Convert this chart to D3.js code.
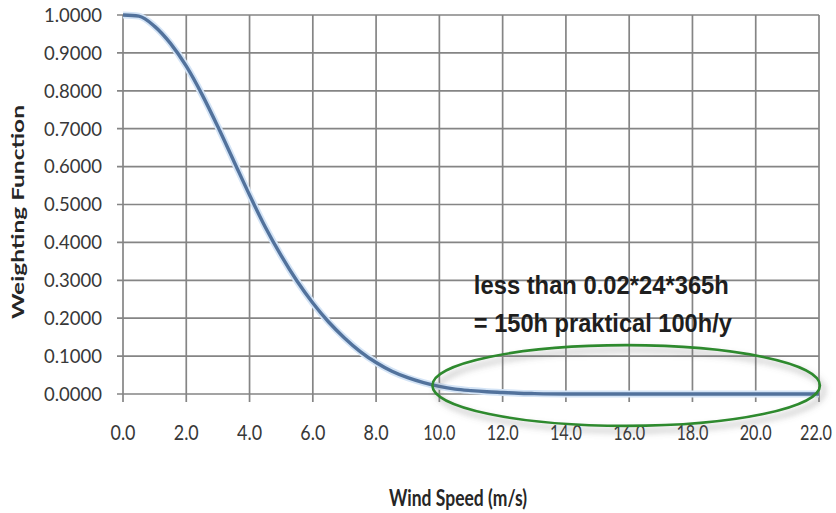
<!DOCTYPE html>
<html>
<head>
<meta charset="utf-8">
<script src="https://cdn.jsdelivr.net/npm/d3@7"></script>
<style>
  body { margin: 0; background: #fff; }
  svg { display: block; }
</style>
</head>
<body>
<div id="chart"></div>
<script>
// wind speed (m/s) and weighting function
const windSpeed = [0, 0.5, 1, 1.5, 2, 2.5, 3, 3.5, 4, 4.5, 5, 5.5, 6, 6.5, 7, 7.5, 8, 8.5, 9, 9.5, 10, 10.5, 11, 11.5, 12, 12.5, 13, 14, 16, 18, 20, 22];
const weighting = [1.0, 0.997, 0.97, 0.925, 0.865, 0.79, 0.705, 0.615, 0.525, 0.44, 0.365, 0.298, 0.24, 0.19, 0.148, 0.112, 0.083, 0.06, 0.043, 0.03, 0.02, 0.013, 0.009, 0.006, 0.004, 0.002, 0.001, 0, 0, 0, 0, 0];

const xTicks = [0, 2, 4, 6, 8, 10, 12, 14, 16, 18, 20, 22];
const yTicks = [0, 0.1, 0.2, 0.3, 0.4, 0.5, 0.6, 0.7, 0.8, 0.9, 1.0];

const noteLines = ["less than 0.02*24*365h", "= 150h praktical 100h/y"];
// ellipse bounds in data units [speed, weighting]
const ellipseX = [9.78, 22.03];
const ellipseY = [-0.084, 0.129];

const W = 836, H = 513;
const margin = { top: 15, right: 17, bottom: 117, left: 123 };

const svg = d3.select("#chart")
  .append("svg")
  .attr("width", W)
  .attr("height", H);

const defs = svg.append("defs");
const shadow = defs.append("filter")
  .attr("id", "shadow")
  .attr("x", "-10%").attr("y", "-30%")
  .attr("width", "130%").attr("height", "180%");
shadow.append("feDropShadow")
  .attr("dx", 4).attr("dy", 5)
  .attr("stdDeviation", 3)
  .attr("flood-color", "#666")
  .attr("flood-opacity", 0.55);

const x = d3.scaleLinear()
  .domain([0, 22])
  .range([margin.left, W - margin.right]);

const y = d3.scaleLinear()
  .domain([0, 1])
  .range([H - margin.bottom - 2, margin.top]);

// grid lines (with little ticks sticking out)
const grid = svg.append("g").attr("stroke", "#858585").attr("stroke-width", 1.7);

grid.selectAll(".hgrid")
  .data(yTicks)
  .join("line")
  .attr("x1", x(0) - 6)
  .attr("x2", x(22))
  .attr("y1", d => y(d))
  .attr("y2", d => y(d));

grid.selectAll(".vgrid")
  .data(xTicks)
  .join("line")
  .attr("x1", d => x(d))
  .attr("x2", d => x(d))
  .attr("y1", y(1))
  .attr("y2", y(0) + 8);

// y tick labels
svg.append("g")
  .selectAll("text")
  .data(yTicks)
  .join("text")
  .attr("x", x(0) - 21)
  .attr("y", d => y(d))
  .attr("dy", "0.36em")
  .attr("text-anchor", "end")
  .attr("textLength", 58)
  .attr("lengthAdjust", "spacingAndGlyphs")
  .style("font-family", "Lato, 'Open Sans', sans-serif")
  .style("font-size", "19px")
  .style("fill", "#383838")
  .text(d => d.toFixed(4));

// x tick labels (last one kept inside the frame)
const lastTick = xTicks[xTicks.length - 1];
svg.append("g")
  .selectAll("text")
  .data(xTicks)
  .join("text")
  .attr("x", d => d === lastTick ? W - 4 : x(d))
  .attr("y", y(0) + 46)
  .attr("text-anchor", d => d === lastTick ? "end" : "middle")
  .attr("textLength", d => d.toFixed(1).length === 3 ? 25 : 32)
  .attr("lengthAdjust", "spacingAndGlyphs")
  .style("font-family", "Lato, 'Open Sans', sans-serif")
  .style("font-size", "21px")
  .style("fill", "#383838")
  .text(d => d.toFixed(1));

// axis titles
svg.append("text")
  .attr("x", (x(0) + x(22)) / 2 - 13)
  .attr("y", H - 7)
  .attr("text-anchor", "middle")
  .attr("textLength", 138)
  .attr("lengthAdjust", "spacingAndGlyphs")
  .style("font-family", "Lato, 'Open Sans', sans-serif")
  .style("font-weight", "bold")
  .style("font-size", "22px")
  .style("fill", "#262626")
  .text("Wind Speed (m/s)");

svg.append("text")
  .attr("transform", `translate(24, ${y(0.48)}) rotate(-90)`)
  .attr("text-anchor", "middle")
  .attr("textLength", 214)
  .attr("lengthAdjust", "spacingAndGlyphs")
  .style("font-family", "Lato, 'Open Sans', sans-serif")
  .style("font-weight", "bold")
  .style("font-size", "17px")
  .style("fill", "#262626")
  .text("Weighting Function");

// the curve
const line = d3.line()
  .x((d, i) => x(windSpeed[i]))
  .y(d => y(d))
  .curve(d3.curveMonotoneX);

svg.append("path")
  .datum(weighting)
  .attr("fill", "none")
  .attr("stroke", "#d4e4f6")
  .attr("stroke-width", 7)
  .attr("stroke-linejoin", "round")
  .attr("d", line);

svg.append("path")
  .datum(weighting)
  .attr("fill", "none")
  .attr("stroke", "#52729c")
  .attr("stroke-width", 3.4)
  .attr("stroke-linejoin", "round")
  .attr("d", line);

// annotation
svg.append("ellipse")
  .attr("cx", x((ellipseX[0] + ellipseX[1]) / 2))
  .attr("cy", y((ellipseY[0] + ellipseY[1]) / 2))
  .attr("rx", (x(ellipseX[1]) - x(ellipseX[0])) / 2)
  .attr("ry", (y(ellipseY[0]) - y(ellipseY[1])) / 2)
  .attr("fill", "none")
  .attr("stroke", "#2f8a2f")
  .attr("stroke-width", 2.6)
  .attr("filter", "url(#shadow)");

svg.append("g")
  .selectAll("text")
  .data(noteLines)
  .join("text")
  .attr("x", x(11.09))
  .attr("y", (d, i) => y(0.2635) + i * 38)
  .attr("textLength", (d, i) => i === 0 ? 255 : 258)
  .attr("lengthAdjust", "spacingAndGlyphs")
  .style("font-family", "'Liberation Sans Narrow', 'Liberation Sans', Arial, sans-serif")
  .style("font-weight", "bold")
  .style("font-size", "26px")
  .style("fill", "#1e1e1e")
  .text(d => d);
</script>
</body>
</html>
